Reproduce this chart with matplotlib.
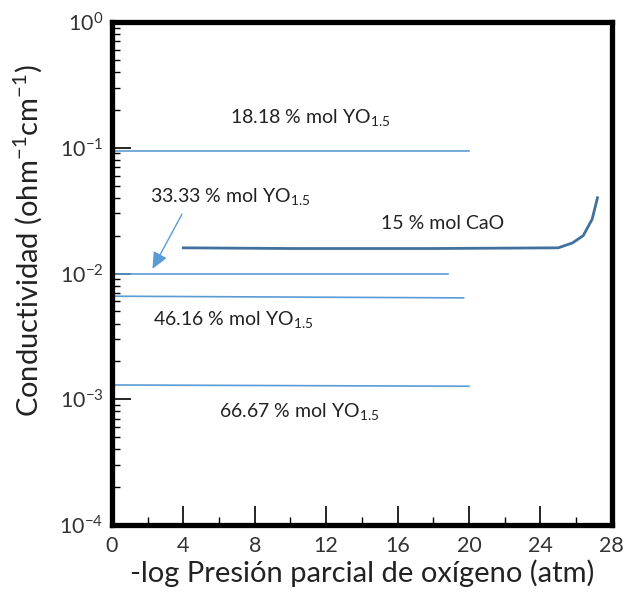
import matplotlib.pyplot as plt
import numpy as np

plt.rcParams['font.family'] = ['Lato', 'DejaVu Sans']
plt.rcParams['mathtext.default'] = 'regular'

# lineas horizontales (YO1.5)
x_1818 = [0, 20]
y_1818 = [0.095, 0.095]
x_3333 = [0, 18.8]
y_3333 = [0.0100, 0.0100]
x_4616 = [0, 19.7]
y_4616 = [0.0066, 0.0064]
x_6667 = [0, 20]
y_6667 = [0.00130, 0.00127]

# curva CaO
x_cao = [4, 10, 18, 25, 25.8, 26.4, 26.9, 27.2]
y_cao = [0.0160, 0.0158, 0.0158, 0.0160, 0.0175, 0.0200, 0.0270, 0.0400]

xticks = [0, 4, 8, 12, 16, 20, 24, 28]
yticks = [1e-4, 1e-3, 1e-2, 1e-1, 1e0]
ytick_labels = ['10$^{-4}$', '10$^{-3}$', '10$^{-2}$', '10$^{-1}$', '10$^{0}$']

light = '#5B9BD5'
dark = '#41719C'

fig = plt.figure(figsize=(6.32, 5.92), dpi=100)
ax = fig.add_axes([0.177, 0.113, 0.791, 0.850])

ax.plot(x_1818, y_1818, color=light, lw=1.2)
ax.plot(x_3333, y_3333, color=light, lw=1.2)
ax.plot(x_4616, y_4616, color=light, lw=1.2)
ax.plot(x_6667, y_6667, color=light, lw=1.2)
ax.plot(x_cao, y_cao, color=dark, lw=2)

ax.set_yscale('log')
ax.set_xlim(0, 28)
ax.set_ylim(1e-4, 1e0)
ax.set_xticks(xticks)
ax.set_xticks(np.arange(2, 28, 4), minor=True)
ax.set_yticks(yticks)
ax.set_yticklabels(ytick_labels)
ax.tick_params(axis='both', which='major', direction='in', length=14, width=1.2,
               labelsize=15.5, color='black', labelcolor='#333333')
ax.tick_params(axis='both', which='minor', direction='in', length=6, width=1)
ax.tick_params(axis='x', pad=8)
ax.tick_params(axis='y', pad=6)
for s in ax.spines.values():
    s.set_linewidth(3.8)

txt = dict(fontsize=14, color='#222222', ha='center', va='center')
ax.text(11.1, 0.175, '18.18 % mol YO$_{1.5}$', **txt)
ax.text(6.6, 0.041, '33.33 % mol YO$_{1.5}$', **txt)
ax.text(18.5, 0.025, '15 % mol CaO', **txt)
ax.text(6.8, 0.0043, '46.16 % mol YO$_{1.5}$', **txt)
ax.text(10.5, 0.00080, '66.67 % mol YO$_{1.5}$', **txt)

ax.annotate('', xy=(2.2, 0.0104), xytext=(4.0, 0.031),
            arrowprops=dict(arrowstyle='-|>,head_length=1.0,head_width=0.45',
                            color=light, lw=1))

ax.set_xlabel('-log Presión parcial de oxígeno (atm)', fontsize=21, color='#222222', labelpad=2)
ax.set_ylabel('Conductividad (ohm$^{-1}$cm$^{-1}$)', fontsize=21, color='#222222')
ax.yaxis.set_label_coords(-0.135, 0.565)

plt.savefig('out.png', dpi=100)
